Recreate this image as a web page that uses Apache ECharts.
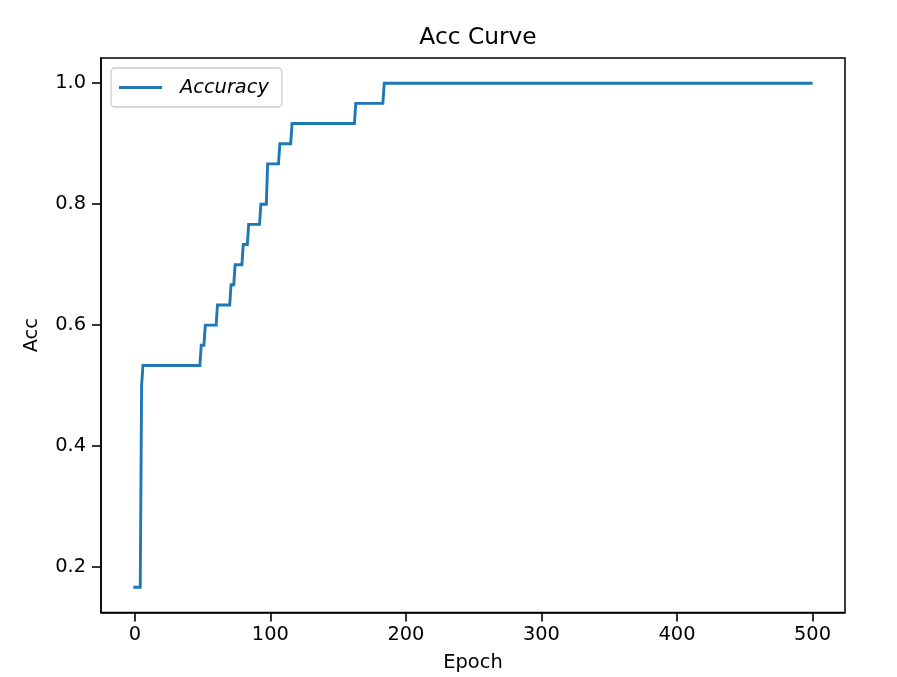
<!DOCTYPE html>
<html>
<head>
<meta charset="utf-8">
<script src="https://cdn.jsdelivr.net/npm/echarts@6/dist/echarts.min.js"></script>
<style>
html,body{margin:0;padding:0;background:#fff;}
#chart{width:897px;height:677px;}
</style>
</head>
<body>
<div id="chart"></div>
<script>
// Epochs where the accuracy curve changes level
const epochs = [0, 4, 5, 6, 48, 49, 51, 52, 60, 61, 70, 71, 73, 74, 79, 80, 83, 84, 92, 93, 97, 98, 106, 107, 115, 116, 162, 163, 183, 184, 499];
const accuracy = [0.1667, 0.1667, 0.5, 0.5333, 0.5333, 0.5667, 0.5667, 0.6, 0.6, 0.6333, 0.6333, 0.6667, 0.6667, 0.7, 0.7, 0.7333, 0.7333, 0.7667, 0.7667, 0.8, 0.8, 0.8667, 0.8667, 0.9, 0.9, 0.9333, 0.9333, 0.9667, 0.9667, 1.0, 1.0];
const xTicks = [0, 100, 200, 300, 400, 500];
const yTicks = [0.2, 0.4, 0.6, 0.8, 1.0];
const seriesName = 'Accuracy';

const FONT = 'DejaVu Sans';
const chart = echarts.init(document.getElementById('chart'), null, {renderer: 'canvas'});
chart.setOption({
  animation: false,
  backgroundColor: '#ffffff',
  title: {
    text: 'Acc Curve',
    left: 473,
    top: 21,
    textAlign: 'center',
    textStyle: {fontFamily: FONT, fontSize: 23.3, fontWeight: 'normal', color: '#000'}
  },
  legend: {
    left: 111,
    top: 68,
    orient: 'vertical',
    icon: 'rect',
    itemWidth: 43,
    itemHeight: 3,
    padding: [10, 13, 10, 8],
    backgroundColor: 'rgba(255,255,255,0.8)',
    borderColor: '#cccccc',
    borderWidth: 1.3,
    borderRadius: 4,
    textStyle: {fontFamily: FONT, fontSize: 19.4, fontStyle: 'italic', color: '#000', padding: [0, 0, 0, 13]},
    data: [seriesName]
  },
  grid: {
    left: 101, right: 52, top: 58, bottom: 64.5,
    outerBoundsMode: 'none',
    containLabel: false,
    show: true, borderColor: '#000', borderWidth: 1.5, backgroundColor: 'transparent'
  },
  xAxis: {
    type: 'value',
    min: -24.95,
    max: 523.95,
    name: 'Epoch',
    nameLocation: 'middle',
    nameGap: 41,
    nameTextStyle: {fontFamily: FONT, fontSize: 19.4, color: '#000'},
    axisLine: {show: true, onZero: false, lineStyle: {color: '#000', width: 1.5}},
    axisTick: {show: true, inside: false, length: 9, lineStyle: {color: '#000', width: 1.6}, customValues: xTicks},
    axisLabel: {fontFamily: FONT, fontSize: 19.4, color: '#000', margin: 13, customValues: xTicks, formatter: v => String(v)},
    splitLine: {show: false}
  },
  yAxis: {
    type: 'value',
    min: 0.125,
    max: 1.04167,
    name: 'Acc',
    nameLocation: 'middle',
    nameRotate: 90,
    nameGap: 60,
    nameTextStyle: {fontFamily: FONT, fontSize: 19.4, color: '#000'},
    axisLine: {show: true, onZero: false, lineStyle: {color: '#000', width: 1.5}},
    axisTick: {show: true, inside: false, length: 9, lineStyle: {color: '#000', width: 1.6}, customValues: yTicks},
    axisLabel: {fontFamily: FONT, fontSize: 19.4, color: '#000', margin: 15, customValues: yTicks, formatter: v => v.toFixed(1)},
    splitLine: {show: false}
  },
  series: [{
    name: seriesName,
    type: 'line',
    data: epochs.map((e, i) => [e, accuracy[i]]),
    showSymbol: false,
    symbol: 'none',
    color: '#1f77b4',
    lineStyle: {color: '#1f77b4', width: 2.9, cap: 'square', join: 'miter'}
  }]
});
</script>
</body>
</html>
